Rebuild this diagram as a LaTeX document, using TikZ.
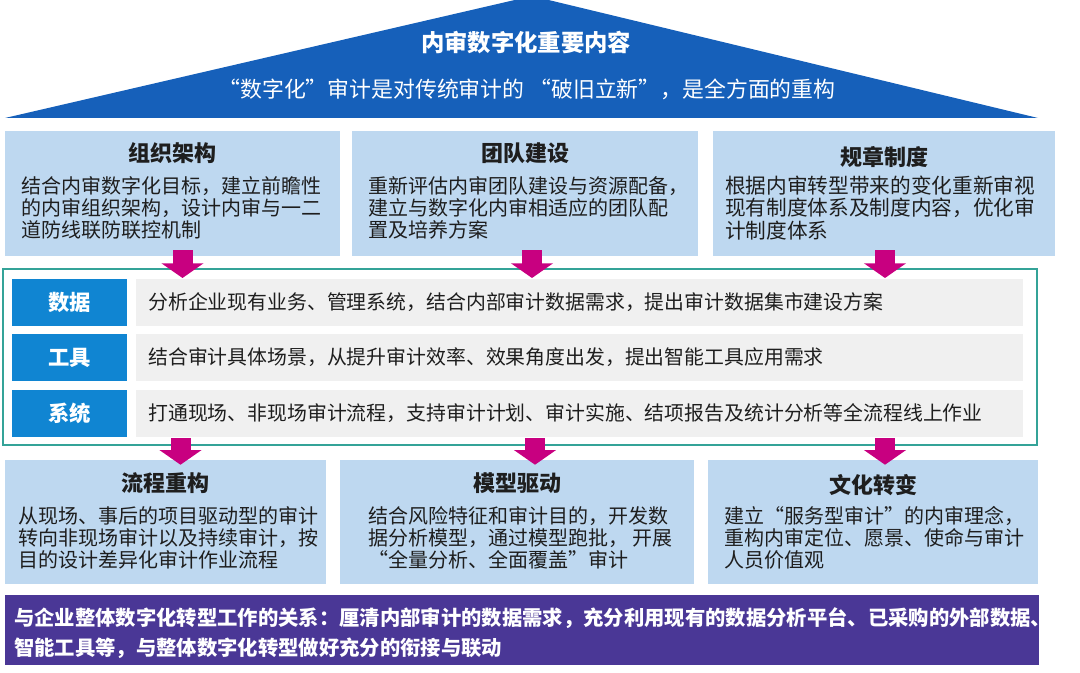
\documentclass[tikz,border=0pt]{standalone}
\usepackage{fontspec}
\setmainfont{Noto Sans CJK SC}
\usepackage{tikz}
\usetikzlibrary{arrows.meta}
\usetikzlibrary{positioning}
\usetikzlibrary{fit}
\usetikzlibrary{calc}

\definecolor{roofblue}{RGB}{22,96,186}
\definecolor{paleblue}{RGB}{190,216,240}
\definecolor{tagblue}{RGB}{16,133,210}
\definecolor{rowgray}{RGB}{240,240,240}
\definecolor{frameteal}{RGB}{52,163,152}
\definecolor{barpurple}{RGB}{74,55,150}
\definecolor{arrowpink}{RGB}{200,0,128}
\definecolor{bodytext}{RGB}{30,30,30}

\tikzset{
  pillar/.style={fill=paleblue, inner sep=0pt},
  pillartitle/.style={font=\bfseries\fontsize{16.5}{20}\selectfont, text=bodytext, inner sep=0pt},
  pillarbody/.style={font=\fontsize{15}{16.5}\selectfont, text=bodytext, align=left, anchor=west, inner sep=0pt},
  tag/.style={fill=tagblue, inner sep=0pt},
  tagtext/.style={text=white, inner sep=0pt, font=\bfseries\fontsize{16}{19}\selectfont},
  rowbox/.style={fill=rowgray, inner sep=0pt},
  rowtext/.style={font=\fontsize{14.9}{18}\selectfont, text=bodytext, anchor=west, inner sep=0pt},
  flowarrow/.style={draw=arrowpink, line width=15pt, -{Triangle[width=31pt,length=11pt]}}
}

\begin{document}
\begin{tikzpicture}[x=0.75pt, y=-0.75pt]
  \useasboundingbox (0,0) rectangle (1080,673);

  \fill[roofblue] (5,118) -- (532,-4) -- (1038,118) -- cycle;
  \node[text=white, font=\bfseries\fontsize{17.5}{20}\selectfont] (roofTitle) at (526,43) {内审数字化重要内容};
  \node[text=white, font=\fontsize{16.4}{20}\selectfont] (roofSub) at (527,89) {“数字化”审计是对传统审计的 “破旧立新”，是全方面的重构};

  \begin{scope}[every node/.style={pillar}]
    \node[fit={(5,131) (340,256)}] (org) {};
    \node[fit={(352,131) (698,256)}] (team) {};
    \node[fit={(713,131) (1055,256)}] (rule) {};
  \end{scope}
  \node[pillartitle] (orgT) at (org.north |- 0,153) {组织架构};
  \node[pillartitle] (teamT) at (team.north |- 0,153) {团队建设};
  \node[pillartitle] (ruleT) at (rule.north |- 0,157) {规章制度};
  \node[pillarbody] (orgB) at (21,208) {结合内审数字化目标，建立前瞻性\\的内审组织架构，设计内审与一二\\道防线联防联控机制};
  \node[pillarbody] (teamB) at (368,208) {重新评估内审团队建设与资源配备，\\建立与数字化内审相适应的团队配\\置及培养方案};
  \node[pillarbody, font=\fontsize{15.5}{17}\selectfont] (ruleB) at (725,208) {根据内审转型带来的变化重新审视\\现有制度体系及制度内容，优化审\\计制度体系};

  \node[draw=frameteal, line width=1.5pt, fill=white, inner sep=0pt, fit={(3,269) (1037,445)}] (frame) {};
  \begin{scope}[every node/.style={tag}]
    \node[fit={(12,279) (127,326)}] (data) {};
    \node[fit={(12,334) (127,381)}] (tool) {};
    \node[fit={(12,390) (127,437)}] (sys) {};
  \end{scope}
  \node[tagtext] (dataT) at (data.center) {数据};
  \node[tagtext] (toolT) at (tool.center) {工具};
  \node[tagtext] (sysT) at (sys.center) {系统};
  \begin{scope}[every node/.style={rowbox}]
    \node[fit={(136,279) (1023,326)}] (dataRow) {};
    \node[fit={(136,334) (1023,381)}] (toolRow) {};
    \node[fit={(136,390) (1023,437)}] (sysRow) {};
  \end{scope}
  \node[rowtext] (dataTxt) at (148,302.5) {分析企业现有业务、管理系统，结合内部审计数据需求，提出审计数据集市建设方案};
  \node[rowtext] (toolTxt) at (148,357.5) {结合审计具体场景，从提升审计效率、效果角度出发，提出智能工具应用需求};
  \node[rowtext] (sysTxt) at (148,413.5) {打通现场、非现场审计流程，支持审计计划、审计实施、结项报告及统计分析等全流程线上作业};

  \begin{scope}[every node/.style={pillar}]
    \node[fit={(5,460) (326,584)}] (proc) {};
    \node[fit={(340,460) (694,584)}] (model) {};
    \node[fit={(708,460) (1038,584)}] (culture) {};
  \end{scope}
  \node[pillartitle] (procT) at (proc.north |- 0,483) {流程重构};
  \node[pillartitle] (modelT) at (model.north |- 0,483) {模型驱动};
  \node[pillartitle] (cultureT) at (culture.north |- 0,485) {文化转变};
  \node[pillarbody] (procB) at (18,538) {从现场、事后的项目驱动型的审计\\转向非现场审计以及持续审计，按\\目的设计差异化审计作业流程};
  \node[pillarbody] (modelB) at (368,538) {结合风险特征和审计目的，开发数\\据分析模型，通过模型跑批， 开展\\“全量分析、全面覆盖”审计};
  \node[pillarbody] (cultureB) at (724,538) {建立“服务型审计”的内审理念，\\重构内审定位、愿景、使命与审计\\人员价值观};

  \node[fill=barpurple, inner sep=0pt, fit={(5,595) (1039,665)}] (bar) {};
  \node[anchor=west, align=left, inner sep=0pt, text=white, font=\bfseries\fontsize{15.25}{22.5}\selectfont] (barTxt) at (14,633) {与企业整体数字化转型工作的关系：厘清内部审计的数据需求，充分利用现有的数据分析平台、已采购的外部数据、\\智能工具等，与整体数字化转型做好充分的衔接与联动};

  \draw[flowarrow] ($(org.south)+(10,-6)$) -- ($(org.south |- frame.north)+(10,10)$);
  \draw[flowarrow] ($(team.south)+(7,-6)$) -- ($(team.south |- frame.north)+(7,10)$);
  \draw[flowarrow] ($(rule.south)+(1,-6)$) -- ($(rule.south |- frame.north)+(1,10)$);
  \draw[flowarrow] ($(proc.north |- frame.south)+(15,-8)$) -- ($(proc.north)+(15,5)$);
  \draw[flowarrow] ($(model.north |- frame.south)+(18,-8)$) -- ($(model.north)+(18,5)$);
  \draw[flowarrow] ($(culture.north |- frame.south)+(12,-8)$) -- ($(culture.north)+(12,5)$);
\end{tikzpicture}
\end{document}
